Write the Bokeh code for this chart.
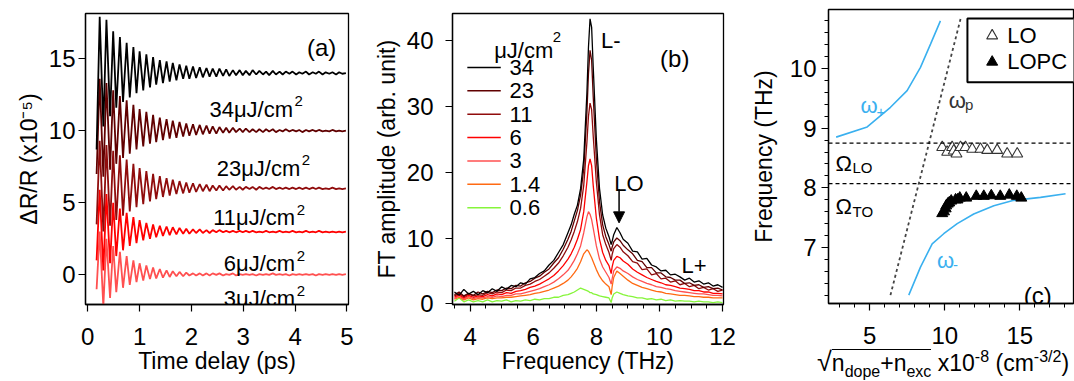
from bokeh.plotting import figure
from bokeh.layouts import row, column
from bokeh.models import FixedTicker, Range1d, Arrow, NormalHead, Span, Div
from bokeh.core.properties import value
from bokeh.embed import file_html
from bokeh.resources import INLINE

FONT = "Liberation Sans"

# ---------------- panel (a): transient reflectivity (extrema of the oscillation) ----------------
delay_ps = [0.17, 0.23, 0.30, 0.36, 0.43, 0.49, 0.55, 0.62, 0.68, 0.75,
            0.81, 0.88, 0.94, 1.00, 1.07, 1.13, 1.20, 1.26, 1.32, 1.39,
            1.45, 1.52, 1.58, 1.64, 1.71, 1.77, 1.84, 1.90, 1.96, 2.03,
            2.09, 2.16, 2.22, 2.29, 2.35, 2.41, 2.48, 2.54, 2.61, 2.67,
            2.73, 2.80, 2.86, 2.93, 2.99, 3.05, 3.12, 3.18, 3.25, 3.31,
            3.38, 3.44, 3.50, 3.57, 3.63, 3.70, 3.76, 3.82, 3.89, 3.95,
            4.02, 4.08, 4.14, 4.21, 4.27, 4.34, 4.40, 4.46, 4.53, 4.59,
            4.66, 4.72, 4.79, 4.85, 4.91, 4.98]
dr_34 = [8.7, 17.9, 10.3, 17.7, 11.0, 16.9, 11.6, 16.5, 12.0, 16.1,
         12.3, 15.8, 12.6, 15.5, 12.8, 15.3, 13.0, 15.1, 13.2, 14.9,
         13.3, 14.8, 13.4, 14.7, 13.5, 14.6, 13.6, 14.5, 13.6, 14.45,
         13.65, 14.4, 13.7, 14.35, 13.75, 14.3, 13.75, 14.3, 13.8, 14.25,
         13.8, 14.2, 13.85, 14.2, 13.85, 14.15, 13.85, 14.2, 13.9, 14.15,
         13.9, 14.1, 13.85, 14.15, 13.9, 14.1, 13.9, 14.1, 13.95, 14.1,
         13.9, 14.05, 13.95, 14.1, 13.9, 14.05, 13.95, 14.1, 13.9, 14.05,
         13.95, 14.05, 13.9, 14.05, 13.95, 14.0]
dr_23 = [7.0, 13.6, 6.8, 13.3, 7.3, 12.8, 7.7, 12.4, 8.1, 12.1,
         8.4, 11.8, 8.7, 11.5, 8.9, 11.3, 9.1, 11.1, 9.2, 10.9,
         9.35, 10.8, 9.45, 10.7, 9.5, 10.6, 9.6, 10.5, 9.65, 10.45,
         9.7, 10.4, 9.75, 10.35, 9.8, 10.3, 9.8, 10.25, 9.85, 10.2,
         9.85, 10.2, 9.9, 10.15, 9.9, 10.15, 9.9, 10.1, 9.9, 10.1,
         9.9, 10.1, 9.95, 10.1, 9.9, 10.05, 9.95, 10.1, 9.95, 10.05,
         9.95, 10.05, 9.9, 10.05, 9.95, 10.05, 9.95, 10.05, 9.95, 10.0,
         9.95, 10.05, 9.95, 10.0, 9.95, 10.0]
dr_11 = [3.5, 9.3, 3.0, 9.0, 3.4, 8.6, 3.8, 8.3, 4.1, 8.0,
         4.4, 7.7, 4.7, 7.4, 4.9, 7.2, 5.1, 7.0, 5.25, 6.85,
         5.4, 6.7, 5.5, 6.6, 5.6, 6.5, 5.65, 6.4, 5.7, 6.35,
         5.75, 6.3, 5.8, 6.25, 5.8, 6.2, 5.85, 6.2, 5.85, 6.15,
         5.9, 6.15, 5.9, 6.1, 5.9, 6.1, 5.95, 6.1, 5.9, 6.1,
         5.95, 6.05, 5.95, 6.1, 5.95, 6.05, 5.95, 6.05, 5.95, 6.05,
         5.95, 6.05, 5.95, 6.05, 5.95, 6.05, 5.95, 6.05, 5.95, 6.0,
         5.95, 6.05, 5.95, 6.0, 5.95, 6.0]
dr_6 = [1.0, 5.9, 0.3, 5.6, 0.8, 5.0, 1.3, 4.6, 1.7, 4.3,
        2.0, 4.0, 2.2, 3.8, 2.4, 3.6, 2.5, 3.5, 2.6, 3.4,
        2.7, 3.35, 2.75, 3.3, 2.8, 3.25, 2.85, 3.2, 2.85, 3.15,
        2.9, 3.15, 2.9, 3.1, 2.9, 3.1, 2.95, 3.1, 2.95, 3.05,
        2.95, 3.05, 2.95, 3.05, 2.95, 3.05, 2.95, 3.05, 2.95, 3.0,
        2.95, 3.05, 2.95, 3.0, 2.95, 3.05, 2.95, 3.0, 2.95, 3.05,
        2.95, 3.0, 2.95, 3.05, 2.95, 3.0, 2.95, 3.05, 2.95, 3.0,
        2.95, 3.0, 2.95, 3.0, 2.95, 3.0]
dr_3 = [-1.0, 3.0, -2.2, 2.5, -1.6, 2.0, -1.2, 1.6, -0.9, 1.3,
        -0.7, 1.0, -0.5, 0.8, -0.4, 0.65, -0.3, 0.5, -0.25, 0.4,
        -0.2, 0.3, -0.15, 0.25, -0.1, 0.2, -0.1, 0.15, -0.05, 0.1,
        -0.05, 0.1, -0.05, 0.1, -0.05, 0.1, 0.0, 0.1, -0.05, 0.05,
        0.0, 0.1, -0.05, 0.05, 0.0, 0.05, 0.0, 0.05, -0.05, 0.05,
        0.0, 0.05, 0.0, 0.1, 0.0, 0.05, 0.0, 0.05, -0.05, 0.05,
        0.0, 0.05, 0.0, 0.05, 0.0, 0.05, -0.05, 0.05, 0.0, 0.05,
        0.0, 0.05, 0.0, 0.05, 0.0, 0.05]
fluence_a = ["34", "23", "11", "6", "3"]

# ---------------- panel (b): FT spectra ----------------
freq_thz = [3.5, 3.65, 3.8, 3.95, 4.1, 4.25, 4.4, 4.55, 4.7, 4.85, 5.0, 5.15,
            5.3, 5.45, 5.6, 5.75, 5.9, 6.05, 6.2, 6.35, 6.5, 6.65, 6.8, 6.95,
            7.1, 7.2, 7.3, 7.4, 7.5, 7.6, 7.7, 7.75, 7.8, 7.85, 7.9, 8.0,
            8.1, 8.2, 8.3, 8.4, 8.47, 8.5, 8.55, 8.65, 8.75, 8.85,
            9.0, 9.15, 9.3, 9.45, 9.6, 9.75, 9.9, 10.05, 10.2, 10.35, 10.5,
            10.65, 10.8, 10.95, 11.1, 11.25, 11.4, 11.55, 11.7, 11.85, 12.0]
ft_34 = [1.8, 1.3, 2.2, 1.5, 1.9, 1.4, 2.0, 1.7, 2.3, 1.9, 2.6, 2.2,
         2.8, 2.6, 3.2, 3.0, 3.8, 4.0, 4.6, 5.0, 5.9, 6.6, 7.8, 9.0,
         10.8, 12.0, 13.6, 15.0, 17.5, 22.0, 32.0, 39.0, 43.3, 42.0, 36.0, 25.0,
         17.5, 13.5, 11.5, 10.2, 9.0, 9.5, 10.5, 11.6, 10.8, 9.8,
         9.2, 8.0, 7.9, 6.8, 6.9, 5.9, 5.6, 5.0, 5.1, 4.4, 4.5,
         4.1, 3.6, 3.9, 3.3, 3.5, 3.0, 3.2, 2.7, 2.9, 2.5]
ft_23 = [1.4, 1.8, 1.2, 1.6, 1.3, 1.8, 1.5, 1.9, 1.7, 2.1, 2.0, 2.4,
         2.3, 2.8, 2.7, 3.2, 3.4, 3.9, 4.2, 4.8, 5.3, 6.2, 7.0, 8.3,
         9.8, 11.0, 12.6, 14.2, 16.5, 20.5, 29.0, 35.0, 38.5, 37.0, 31.5, 22.0,
         15.5, 12.0, 10.2, 9.0, 8.0, 8.6, 9.4, 10.0, 9.6, 8.9,
         8.2, 7.6, 6.6, 6.4, 5.5, 5.5, 4.7, 4.7, 4.1, 4.0, 3.6,
         3.6, 3.1, 3.2, 2.8, 2.9, 2.5, 2.6, 2.3, 2.4, 2.1]
ft_11 = [1.2, 1.6, 1.1, 1.5, 1.2, 1.4, 1.3, 1.7, 1.5, 1.8, 1.7, 2.1,
         2.0, 2.4, 2.4, 2.8, 3.0, 3.4, 3.7, 4.2, 4.7, 5.4, 6.2, 7.3,
         8.6, 9.7, 11.0, 12.5, 14.5, 18.0, 24.5, 28.5, 30.5, 29.5, 25.5, 18.5,
         13.5, 10.5, 9.0, 7.8, 6.6, 7.5, 8.4, 9.0, 8.6, 7.9,
         7.3, 6.4, 6.2, 5.2, 5.3, 4.4, 4.6, 3.8, 3.9, 3.3, 3.5,
         2.9, 3.1, 2.6, 2.8, 2.3, 2.5, 2.1, 2.3, 1.9, 2.1]
ft_6 = [1.0, 1.4, 0.9, 1.3, 1.0, 1.2, 1.1, 1.4, 1.2, 1.5, 1.4, 1.7,
        1.6, 1.9, 2.0, 2.2, 2.5, 2.7, 3.0, 3.4, 3.8, 4.3, 5.0, 5.8,
        6.8, 7.6, 8.6, 9.8, 11.3, 14.0, 18.5, 21.0, 22.0, 21.0, 18.0, 13.0,
        9.8, 7.8, 6.6, 5.8, 4.6, 5.6, 6.6, 7.2, 7.0, 6.5,
        6.0, 5.3, 4.8, 4.4, 4.0, 3.7, 3.4, 3.2, 2.9, 2.8, 2.6,
        2.4, 2.3, 2.2, 2.0, 2.0, 1.8, 1.8, 1.6, 1.6, 1.5]
ft_3 = [0.8, 1.2, 0.7, 1.1, 0.8, 1.0, 0.9, 1.1, 1.0, 1.2, 1.1, 1.3,
        1.3, 1.5, 1.5, 1.7, 1.9, 2.1, 2.3, 2.6, 2.9, 3.3, 3.8, 4.4,
        5.1, 5.8, 6.6, 7.6, 8.8, 10.8, 13.2, 14.0, 13.6, 12.8, 11.5, 8.8,
        6.8, 5.6, 4.8, 4.0, 3.0, 3.8, 5.0, 5.6, 5.4, 5.0,
        4.6, 4.1, 3.7, 3.4, 3.1, 2.9, 2.6, 2.5, 2.3, 2.2, 2.0,
        1.9, 1.8, 1.7, 1.6, 1.5, 1.5, 1.4, 1.3, 1.3, 1.2]
ft_1p4 = [0.7, 1.0, 0.6, 0.9, 0.6, 0.8, 0.7, 0.9, 0.8, 0.9, 0.9, 1.0,
          1.0, 1.1, 1.2, 1.3, 1.4, 1.6, 1.7, 1.9, 2.1, 2.4, 2.7, 3.1,
          3.6, 4.1, 4.7, 5.4, 6.4, 7.6, 8.2, 8.0, 7.5, 7.0, 6.4, 5.2,
          4.2, 3.5, 3.0, 2.6, 1.4, 2.6, 4.0, 5.0, 4.6, 4.2,
          3.6, 3.1, 2.8, 2.5, 2.3, 2.1, 1.9, 1.8, 1.6, 1.5, 1.4,
          1.3, 1.3, 1.2, 1.1, 1.1, 1.0, 1.0, 0.9, 0.9, 0.9]
ft_0p6 = [0.4, 0.9, 0.3, 0.6, 0.3, 0.5, 0.3, 0.6, 0.3, 0.5, 0.4, 0.6,
          0.3, 0.5, 0.4, 0.6, 0.5, 0.7, 0.6, 0.8, 0.8, 1.0, 1.0, 1.3,
          1.4, 1.6, 1.8, 2.1, 2.4, 2.2, 2.0, 1.9, 1.7, 1.7, 1.5, 1.4,
          1.2, 1.1, 1.0, 0.9, 0.2, 0.9, 1.5, 1.8, 1.6, 1.4,
          1.2, 1.1, 0.9, 0.9, 0.7, 0.8, 0.6, 0.7, 0.5, 0.6, 0.4,
          0.5, 0.4, 0.4, 0.3, 0.4, 0.3, 0.3, 0.2, 0.3, 0.2]
fluence_b = ["34", "23", "11", "6", "3", "1.4", "0.6"]

# ---------------- panel (c): dispersion ----------------
wplus_x = [2.76, 4.83, 6.38, 7.49, 8.38, 9.05, 9.71]
wplus_y = [8.85, 9.02, 9.35, 9.63, 10.02, 10.41, 10.8]
wminus_x = [7.6, 8.38, 9.16, 9.93, 10.83, 11.93, 13.27, 14.6, 16.38, 18.05]
wminus_y = [6.2, 6.67, 7.06, 7.23, 7.40, 7.56, 7.70, 7.79, 7.84, 7.90]
wp_x = [6.38, 11.05]
wp_y = [6.2, 10.83]
lo_x = [9.83, 10.16, 10.49, 10.6, 10.78, 11.05, 11.38, 11.83, 12.38, 12.83, 13.49, 14.16, 14.83]
lo_y = [8.68, 8.60, 8.68, 8.62, 8.57, 8.68, 8.68, 8.65, 8.65, 8.63, 8.63, 8.57, 8.57]
lopc_x = [9.83, 9.95, 10.06, 10.1, 10.2, 10.3, 10.43, 10.72, 10.85, 11.0, 11.43, 12.1, 12.6, 13.1, 13.7, 14.3, 14.8, 15.1]
lopc_y = [7.57, 7.60, 7.65, 7.70, 7.73, 7.75, 7.78, 7.80, 7.80, 7.83, 7.83, 7.86, 7.86, 7.87, 7.86, 7.88, 7.86, 7.83]
omega_lo = 8.75
omega_to = 8.07

C = {"34": "#000000", "23": "#600000", "11": "#900c0c", "6": "#ff0000",
     "3": "#ff5050", "1.4": "#ff6a13", "0.6": "#86f53b"}
BLUE = "#3ab0ef"


def make_fig(w, h, xr, yr, bl, br, bt, bb):
    p = figure(width=w, height=h, x_range=Range1d(*xr), y_range=Range1d(*yr),
               output_backend="svg", toolbar_location=None,
               min_border_left=bl, min_border_right=br, min_border_top=bt, min_border_bottom=bb)
    p.xgrid.visible = False
    p.ygrid.visible = False
    p.outline_line_color = "black"
    p.outline_line_width = 1.3
    p.outline_line_alpha = 1.0
    p.background_fill_color = "white"
    p.border_fill_color = "white"
    for ax in (p.xaxis[0], p.yaxis[0]):
        ax.axis_line_color = "black"
        ax.axis_line_width = 1.3
        ax.major_tick_out = 7
        ax.major_tick_in = 0
        ax.minor_tick_out = 4
        ax.minor_tick_in = 0
        ax.major_tick_line_color = "black"
        ax.minor_tick_line_color = "black"
        ax.major_tick_line_width = 1.2
        ax.minor_tick_line_width = 1.0
        ax.major_label_text_font = FONT
        ax.major_label_text_font_size = "24px"
        ax.major_label_text_color = "black"
        ax.axis_label_text_font = FONT
        ax.axis_label_text_font_size = "23px"
        ax.axis_label_text_font_style = "normal"
        ax.axis_label_text_color = "black"
        ax.major_label_standoff = 4
        ax.axis_label_standoff = 4
    return p


def txt(p, x, y, s, size="22px", align="left", baseline="alphabetic", color="black"):
    p.text(x=[x], y=[y], text=[s], text_font=value(FONT), text_font_size=value(size),
           text_align=align, text_baseline=baseline, text_color=color)


# ---------------- figure (a) ----------------
pa = make_fig(370, 381, (-0.044, 5.03), (-2.06, 18.13), 85, 22, 12, 75)
pa.xaxis.ticker = FixedTicker(ticks=[0, 1, 2, 3, 4, 5], minor_ticks=[])
pa.yaxis.ticker = FixedTicker(ticks=[0, 5, 10, 15], minor_ticks=[])
pa.xaxis.axis_label = "Time delay (ps)"
pa.yaxis.axis_label = "ΔR/R (x10⁻⁵)"
pa.yaxis.major_label_standoff = 3
pa.xaxis.major_label_standoff = 16
pa.xaxis.axis_label_standoff = 0
traces_a = {"34": dr_34, "23": dr_23, "11": dr_11, "6": dr_6, "3": dr_3}
for key in ["3", "6", "11", "23", "34"]:
    vals = traces_a[key]
    n = min(len(delay_ps), len(vals))
    pa.line(delay_ps[:n], vals[:n], line_color=C[key], line_width=1.8)
lab_xend = [3.96, 4.10, 4.00, 4.00, 4.00]
lab_base = [11.50, 7.39, 3.96, 0.75, -1.65]
for f, xe, yb in zip(fluence_a, lab_xend, lab_base):
    txt(pa, xe, yb, f + "μJ/cm", size="22px", align="right")
    txt(pa, xe + 0.03, yb + 0.55, "2", size="15px")
txt(pa, 4.23, 15.8, "(a)", size="24px")

# ---------------- figure (b) ----------------
pb = make_fig(370, 381, (3.44, 12.03), (-0.1, 44.1), 77, 17, 13, 77)
pb.xaxis.ticker = FixedTicker(ticks=[4, 6, 8, 10, 12],
                              minor_ticks=[3.5, 4.5, 5, 5.5, 6.5, 7, 7.5, 8.5, 9, 9.5, 10.5, 11, 11.5])
pb.yaxis.ticker = FixedTicker(ticks=[0, 10, 20, 30, 40], minor_ticks=[])
pb.xaxis.axis_label = "Frequency (THz)"
pb.yaxis.axis_label = "FT amplitude (arb. unit)"
pb.yaxis.major_label_standoff = 12
pb.xaxis.major_label_standoff = 16
pb.xaxis.axis_label_standoff = 0
traces_b = {"34": ft_34, "23": ft_23, "11": ft_11, "6": ft_6, "3": ft_3, "1.4": ft_1p4, "0.6": ft_0p6}
for key in ["0.6", "1.4", "3", "6", "11", "23", "34"]:
    vals = traces_b[key]
    n = min(len(freq_thz), len(vals))
    pb.line(freq_thz[:n], vals[:n], line_color=C[key], line_width=1.3)
# legend
leg_y = [35.9, 32.35, 28.8, 25.25, 21.7, 18.15, 14.6]
pb.segment(x0=[3.91] * 7, y0=leg_y, x1=[4.97] * 7, y1=leg_y,
           line_color=[C[k] for k in fluence_b], line_width=1.5)
for k, yy in zip(fluence_b, leg_y):
    txt(pb, 5.25, yy, k, size="22px", baseline="middle")
txt(pb, 4.76, 38.5, "μJ/cm", size="22px")
txt(pb, 6.62, 40.5, "2", size="15px")
txt(pb, 8.15, 40.0, "L-", size="22px")
txt(pb, 10.02, 37.3, "(b)", size="24px")
txt(pb, 8.57, 18.3, "LO", size="22px")
txt(pb, 10.7, 5.85, "L+", size="22px")
pb.add_layout(Arrow(end=NormalHead(size=11, fill_color="black", line_color="black"),
                    x_start=8.72, y_start=17.4, x_end=8.72, y_end=12.3,
                    line_color="black", line_width=1.5))

# ---------------- figure (c) ----------------
pc = make_fig(334, 351, (2.25, 18.58), (6.06, 10.99), 88, 1, 9, 48)
pc.xaxis.ticker = FixedTicker(ticks=[5, 10, 15],
                              minor_ticks=[3, 4, 6, 7, 8, 9, 11, 12, 13, 14, 16, 17, 18])
pc.yaxis.ticker = FixedTicker(ticks=[7, 8, 9, 10],
                              minor_ticks=[6.2, 6.4, 6.6, 6.8, 7.2, 7.4, 7.6, 7.8, 8.2, 8.4, 8.6, 8.8,
                                           9.2, 9.4, 9.6, 9.8, 10.2, 10.4, 10.6, 10.8])
pc.yaxis.axis_label = "Frequency (THz)"
pc.yaxis.major_label_standoff = 5
pc.yaxis.axis_label_standoff = 10
pc.xaxis.major_label_standoff = 16
for loc in (omega_lo, omega_to):
    pc.add_layout(Span(location=loc, dimension="width", line_color="black",
                       line_dash="4 3", line_width=1.2))
pc.line(wplus_x, wplus_y, line_color=BLUE, line_width=1.6)
pc.line(wminus_x, wminus_y, line_color=BLUE, line_width=1.6)
pc.line(wp_x, wp_y, line_color="#444444", line_width=1.8, line_dash="3 3")
pc.scatter(lo_x, lo_y, marker="triangle", size=11, fill_color="white", line_color="#333333", line_width=1.1)
pc.scatter(lopc_x, lopc_y, marker="triangle", size=11, fill_color="black", line_color="black")
# legend box
pc.quad(left=[11.51], right=[19.5], top=[10.84], bottom=[9.77], fill_color="white",
        line_color="black", line_width=2)
pc.scatter([13.16], [10.55], marker="triangle", size=11, fill_color="white", line_color="#333333", line_width=1.1)
pc.scatter([13.16], [10.11], marker="triangle", size=11, fill_color="black", line_color="black")
txt(pc, 14.16, 10.55, "LO", size="22px", baseline="middle")
txt(pc, 14.16, 10.11, "LOPC", size="22px", baseline="middle")
# curve labels
txt(pc, 4.38, 9.38, "ω", size="22px", color=BLUE)
txt(pc, 5.45, 9.27, "+", size="15px", color=BLUE)
txt(pc, 9.49, 6.78, "ω", size="22px", color=BLUE)
txt(pc, 10.55, 6.70, "-", size="15px", color=BLUE)
txt(pc, 10.27, 9.46, "ω", size="22px", color="#333333")
txt(pc, 11.35, 9.40, "p", size="15px", color="#333333")
txt(pc, 2.71, 8.40, "Ω", size="22px")
txt(pc, 3.85, 8.34, "LO", size="15px")
txt(pc, 2.71, 7.68, "Ω", size="22px")
txt(pc, 3.85, 7.61, "TO", size="15px")
txt(pc, 15.27, 6.20, "(c)", size="24px")

# x-axis label of (c), as rich text below the plot
SUB = "font-size:16px;line-height:0;"
xlabel_c = (
    "<div style=\"font-family:'Liberation Sans',Arial,sans-serif;font-size:23px;color:black;"
    "white-space:nowrap;padding-left:77px;padding-top:0px;line-height:24px;margin:0;\">"
    "<span style=\"font-size:27px;line-height:0;\">√</span>"
    "<span style=\"border-top:1.3px solid black;\">n<sub style=\"" + SUB + "\">dope</sub>"
    "+n<sub style=\"" + SUB + "\">exc</sub></span>"
    " x10<sup style=\"" + SUB + "\">-8</sup> (cm<sup style=\"" + SUB + "\">-3/2</sup>)</div>"
)
label_c = Div(text=xlabel_c, width=334, height=30, margin=(0, 0, 0, 0))

layout = row(pa, pb, column(pc, label_c))
open("out.html", "w").write(file_html(layout, INLINE))
